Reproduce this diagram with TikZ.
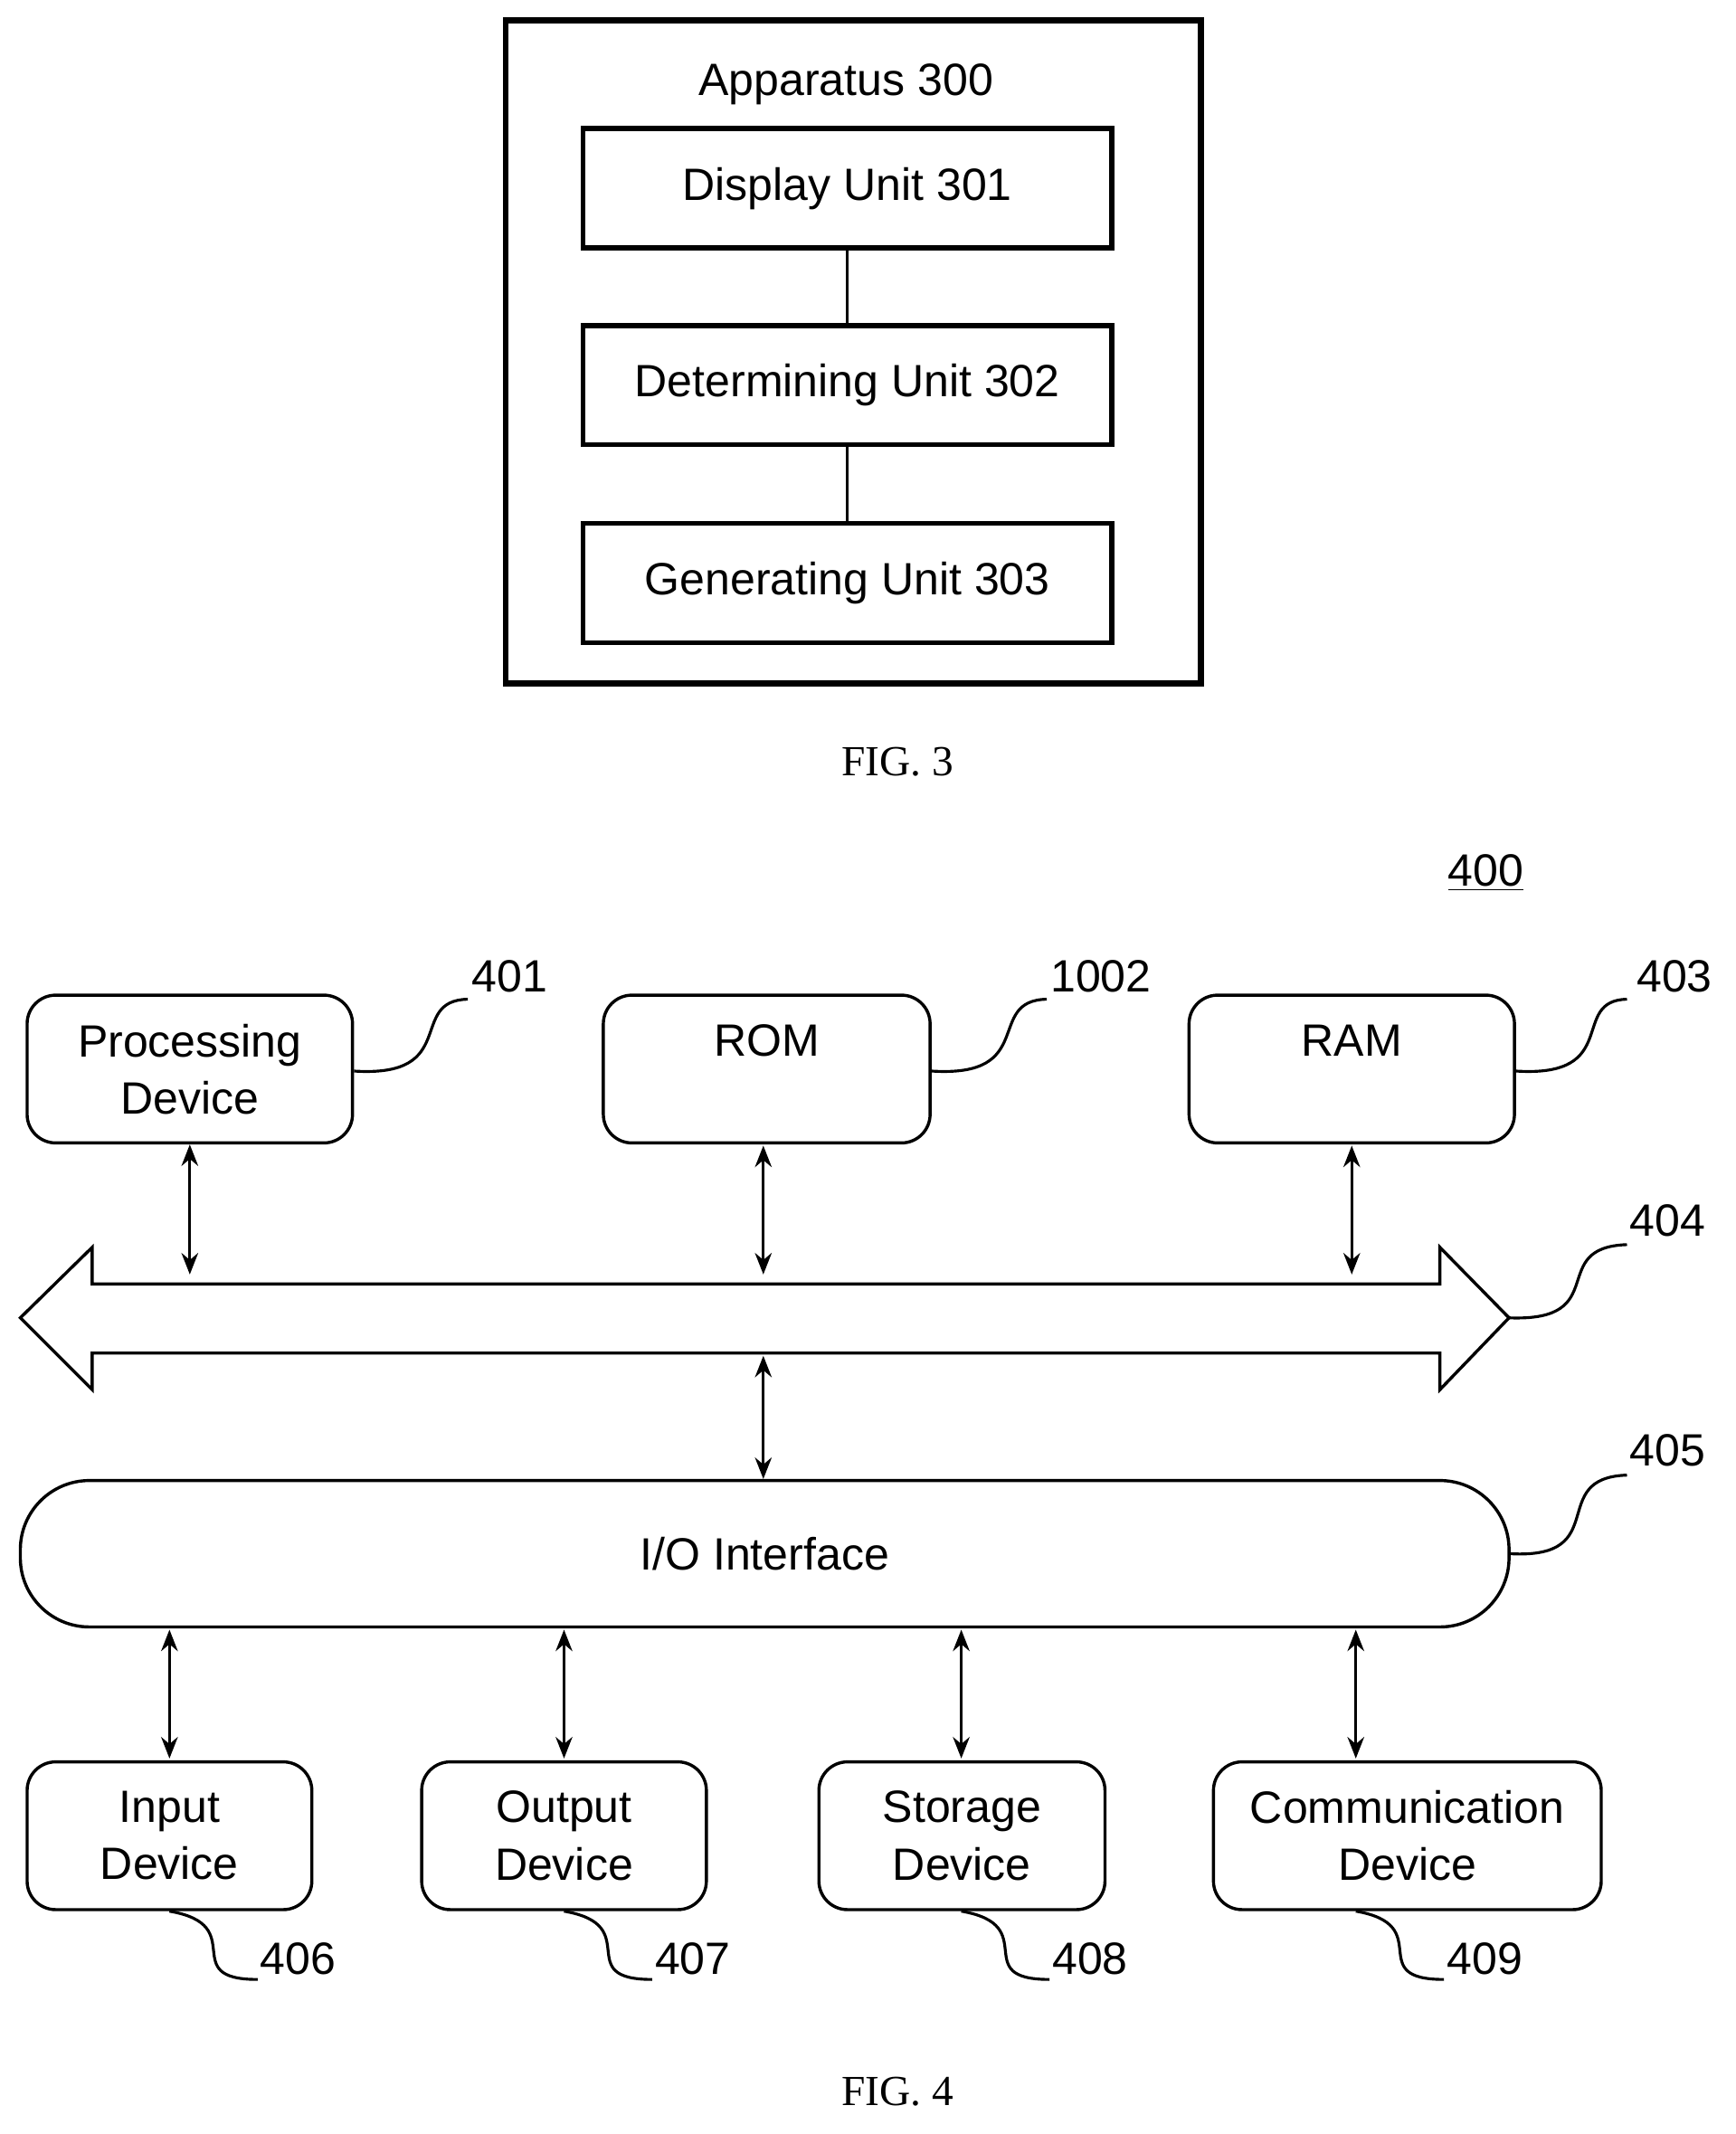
\documentclass[tikz,border=0pt]{standalone}
\usepackage{fontspec}
\setmainfont{Liberation Sans}
\newfontfamily\capfont{Liberation Serif}
\usetikzlibrary{positioning,arrows.meta}
\tikzset{
	unitbox/.style={rectangle, draw, line width=2.2pt, minimum width=390*0.02cm, minimum height=88*0.02cm, font=\fontsize{19}{22}\selectfont},
	devbox/.style={rectangle, rounded corners=12pt, draw, line width=1.3pt, minimum height=109*0.02cm, align=center, font=\fontsize{19}{24}\selectfont},
	biarrow/.style={{Stealth[length=9pt,width=7pt]}-{Stealth[length=9pt,width=7pt]}, line width=1.2pt},
	tag/.style={font=\fontsize{19}{22}\selectfont},
	squig/.style={line width=1.2pt}
}
\begin{document}
\begin{tikzpicture}[x=0.02cm,y=-0.02cm]
	\useasboundingbox (0,0) rectangle (1280,1574);
	% FIG. 3
	\node[draw, line width=2.6pt, minimum width=513*0.02cm, minimum height=489*0.02cm] (app) at (629.5,259.5) {};
	\node[tag] (apptext) at (624,62) {Apparatus 300};
	\node[unitbox] (disp) at (625,139) {Display Unit 301};
	\node[unitbox] (det) at (625,284) {Determining Unit 302};
	\node[unitbox] (gen) at (625,430) {Generating Unit 303};
	\draw[line width=1.2pt] (disp) -- (det);
	\draw[line width=1.2pt] (det) -- (gen);
	\node[font=\capfont\fontsize{18}{20}\selectfont] (fig3) at (662,562) {FIG. 3};
	% FIG. 4
	\node[tag] (n400) at (1096,644) {\underline{400}};
	\node[devbox, minimum width=240*0.02cm] (proc) at (140,788.5) {Processing\\Device};
	\node[devbox, minimum width=241*0.02cm] (rom) at (565.5,788.5) {ROM\\\mbox{}};
	\node[devbox, minimum width=240*0.02cm] (ram) at (997,788.5) {RAM\\\mbox{}};
	\node[tag] (l401) at (376,720) {401};
	\node[tag] (l1002) at (812,720) {1002};
	\node[tag] (l403) at (1235,720) {403};
	\draw[squig] (proc.east |- 0,790) .. controls (340,795) and (300,738) .. (345,737);
	\draw[squig] (rom.east |- 0,790) .. controls (766,795) and (726,738) .. (772,737);
	\draw[squig] (ram.east |- 0,790) .. controls (1197,795) and (1157,738) .. (1200,737);
	% bus
	\draw[line width=1.3pt] (15,972) -- (68,920) -- (68,947) -- (1062,947) -- (1062,920) -- (1113,972)
		-- (1062,1025) -- (1062,998) -- (68,998) -- (68,1025) -- cycle;
	\coordinate (bus) at (1113,972);
	\node[tag] (l404) at (1230,900) {404};
	\draw[squig] (bus) .. controls (1190,975) and (1140,920) .. (1200,918);
	\draw[biarrow] (proc.south) -- (140,940);
	\draw[biarrow] (563,845) -- (563,940);
	\draw[biarrow] (997,845) -- (997,940);
	% I/O
	\node[draw, rounded corners=29pt, line width=1.3pt, minimum width=1098*0.02cm, minimum height=108*0.02cm, tag] (io) at (564,1146) {I/O Interface};
	\node[tag] (l405) at (1230,1070) {405};
	\draw[squig] (io.east) .. controls (1190,1150) and (1140,1090) .. (1200,1088);
	\draw[biarrow] (563,1000) -- (io.north -| 563,0);
	% devices
	\node[devbox, minimum width=210*0.02cm] (inp) at (125,1354) {Input\\Device};
	\node[devbox, minimum width=210*0.02cm] (outp) at (416,1354) {Output\\Device};
	\node[devbox, minimum width=211*0.02cm] (stor) at (709.5,1354) {Storage\\Device};
	\node[devbox, minimum width=286*0.02cm] (comm) at (1038,1354) {Communication\\Device};
	\foreach \d/\x/\l in {inp/125/406, outp/416/407, stor/709/408, comm/1000/409}{
		\draw[biarrow] (\x,1202) -- (\x,1297);
		\node[tag] (l\l) at (\x+95,1445) {\l};
		\draw[squig] (\d.south -| \x,0) .. controls (\x+60,1420) and (\x+5,1460) .. (\x+65,1460);
	}
	\node[font=\capfont\fontsize{18}{20}\selectfont] (fig4) at (662,1543) {FIG. 4};
\end{tikzpicture}
\end{document}
